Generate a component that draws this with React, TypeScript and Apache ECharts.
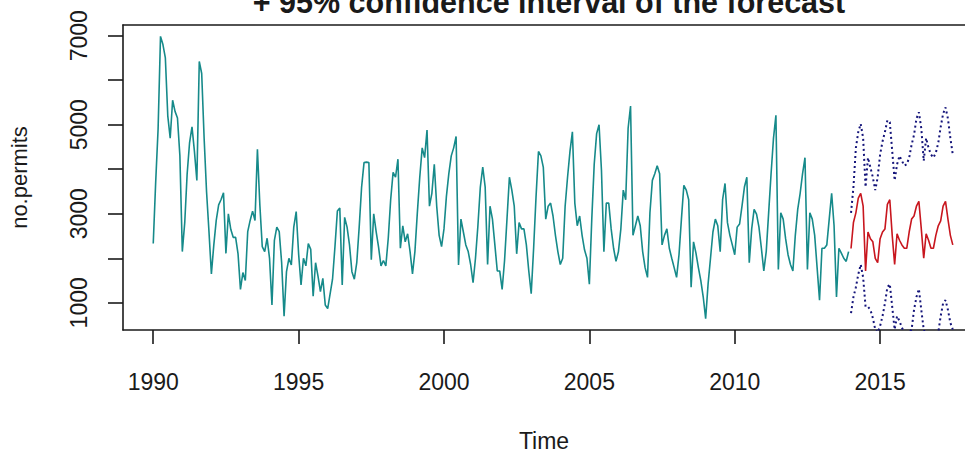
import React, { useEffect, useRef } from "react";
import * as echarts from "echarts";

const START_YEAR = 1990;
const FORECAST_START = 2014;

// monthly building permits, Jan 1990 - Dec 2013
const permits = [
  2330, 3700, 4900, 6985, 6800, 6500, 5200, 4700, 5550, 5300, 5150, 4300,
  2150, 2800, 3900, 4600, 4950, 4400, 3750, 6420, 6150, 4700, 3500, 2600,
  1650, 2300, 2850, 3200, 3320, 3470, 2110, 3000, 2650, 2470, 2470, 2100,
  1300, 1680, 1500, 2600, 2850, 3060, 2850, 4450, 3200, 2260, 2150, 2450,
  2000, 950, 2400, 2700, 2600, 1900, 700, 1700, 2000, 1850, 2700, 3050,
  2100, 1400, 2000, 1830, 2330, 2200, 1150, 1900, 1600, 1250, 1550, 950,
  870, 1200, 1530, 2260, 3060, 3130, 1400, 2920, 2700, 2300, 1700, 1530,
  1900, 2700, 3600, 4150, 4160, 4150, 1970, 3000, 2600, 2250, 1830, 1950,
  1830, 2450, 3320, 3930, 3820, 4225, 2225, 2730, 2370, 2550, 2150, 1650,
  2150, 3020, 3820, 4480, 4260, 4880, 3170, 3460, 4110, 3170, 2515, 2260,
  2660, 3390, 3900, 4300, 4480, 4735, 1850, 2880, 2590, 2300, 2150, 1860,
  1450, 2000, 2730, 3600, 4050, 3600, 1860, 3170, 2880, 2300, 1715, 1715,
  1300, 1950, 2880, 3820, 3530, 3170, 2100, 2800, 2660, 2660, 2300, 1715,
  1205, 2225, 3390, 4400, 4300, 4040, 2880, 3170, 3240, 2950, 2515, 2150,
  1860, 2000, 3170, 3820, 4400, 4840, 3240, 2730, 2950, 2515, 2190, 2000,
  1420, 2880, 4110, 4800, 5000, 3970, 2150, 3240, 3240, 2660, 2225, 1930,
  2150, 2660, 3530, 3315, 4920, 5420, 2515, 2730, 2950, 2730, 2150, 1790,
  1570, 3020, 3750, 3900, 4080, 3900, 2300, 2515, 2660, 2225, 2000, 1790,
  1570, 2080, 2880, 3640, 3530, 3315, 1350, 2370, 2115, 1790, 1500, 1130,
  645, 1420, 2000, 2590, 2880, 2730, 2150, 3315, 3680, 2800, 2515, 2300,
  2080, 2700, 2770, 3170, 3600, 3820, 1900, 2660, 3100, 2990, 2700, 2225,
  1715, 2150, 3020, 3900, 4700, 5210, 1750, 3020, 2880, 2440, 2080, 1860,
  1715, 2515, 3100, 3460, 3900, 4260, 1750, 3020, 2880, 2515, 1790, 1060,
  2225, 2225, 2300, 2880, 3460, 2730, 1130, 2225, 2115, 2000, 1930, 2150,
];

// forecast from Jan 2014
const forecastMean = [
  2220, 2805, 3020, 3350, 3460, 3170, 1715, 2590, 2440, 2370, 2000, 1900,
  2440, 2590, 2660, 3210, 3315, 2515, 1860, 2550, 2405, 2300, 2225, 2225,
  2590, 2880, 2950, 3170, 3280, 2660, 2000, 2550, 2405, 2225, 2225, 2515,
  2730, 2840, 3170, 3280, 2880, 2515, 2300,
];
const forecastUpper = [
  3020, 3600, 4480, 4840, 5020, 4700, 3600, 4260, 4040, 3820, 3530, 3820,
  4330, 4625, 4840, 5100, 5060, 4410, 3750, 4110, 4300, 4190, 4080, 4110,
  4260, 4550, 4770, 5135, 5280, 4920, 4190, 4700, 4480, 4330, 4260, 4370,
  4590, 4950, 5245, 5390, 5135, 4700, 4330,
];
const forecastLower = [
  770, 1130, 1350, 1640, 1860, 1570, 910, 910, 840, 660, 400, 330,
  480, 700, 990, 1350, 1420, 910, 400, 700, 590, 440, 330, 260,
  330, 400, 840, 1130, 1310, 840, 400, 260, 190, 110, 110, 190,
  330, 700, 990, 1060, 840, 550, 400,
];

const xTicks = [1990, 1995, 2000, 2005, 2010, 2015];
const yTicks = [1000, 2000, 3000, 4000, 5000, 6000, 7000];
const yLabels = [1000, 3000, 5000, 7000];

const FONT = "'Liberation Sans', Arial, sans-serif";
const AXIS_COLOR = "#1a1a1a";

function toPairs(values: number[], start: number) {
  return values.map((v, i) => [start + i / 12, v]);
}

export default function App() {
  const ref = useRef<HTMLDivElement>(null);

  useEffect(() => {
    if (!ref.current) return;
    const chart = echarts.init(ref.current, undefined, { renderer: "svg" });
    const xMin = 1988.96;
    const xMax = 2017.92;
    const labelStyle = { fontSize: 23, color: AXIS_COLOR, fontFamily: FONT };
    chart.setOption({
      animation: false,
      backgroundColor: "#ffffff",
      graphic: [
        {
          type: "text",
          x: 549,
          y: 2,
          style: {
            text: "+ 95% confidence interval of the forecast",
            fontSize: 30.5,
            fontWeight: "bold",
            fontFamily: FONT,
            fill: AXIS_COLOR,
            textAlign: "center",
            textVerticalAlign: "middle",
          },
        },
      ],
      grid: { left: 122, top: 25, width: 854, height: 314, show: false },
      xAxis: [
        {
          type: "value",
          position: "bottom",
          min: xMin,
          max: xMax,
          axisLine: { show: true, onZero: false, lineStyle: { color: AXIS_COLOR, width: 1.6 } },
          axisTick: { show: true, length: 14, customValues: xTicks, lineStyle: { color: AXIS_COLOR, width: 1.6 } },
          axisLabel: {
            customValues: xTicks,
            formatter: (v: number) => String(Math.round(v)),
            margin: 40,
            ...labelStyle,
          },
          splitLine: { show: false },
          name: "Time",
          nameLocation: "middle",
          nameGap: 99,
          nameTextStyle: { ...labelStyle },
        },
        {
          type: "value",
          position: "top",
          min: xMin,
          max: xMax,
          axisLine: { show: true, onZero: false, lineStyle: { color: AXIS_COLOR, width: 1.6 } },
          axisTick: { show: false },
          axisLabel: { show: false },
          splitLine: { show: false },
        },
      ],
      yAxis: {
        type: "value",
        min: 389,
        max: 7240,
        axisLine: { show: true, onZero: false, lineStyle: { color: AXIS_COLOR, width: 1.6 } },
        axisTick: { show: true, length: 15, customValues: yTicks, lineStyle: { color: AXIS_COLOR, width: 1.6 } },
        axisLabel: {
          customValues: yLabels,
          formatter: (v: number) => String(Math.round(v)),
          rotate: 90,
          margin: 33,
          ...labelStyle,
        },
        splitLine: { show: false },
        name: "no.permits",
        nameLocation: "middle",
        nameGap: 93,
        nameTextStyle: { ...labelStyle, fontSize: 22 },
      },
      series: [
        {
          type: "line",
          name: "permits",
          data: toPairs(permits, START_YEAR),
          showSymbol: false,
          symbol: "none",
          clip: true,
          lineStyle: { color: "#168a8a", width: 1.6 },
        },
        {
          type: "line",
          name: "upper",
          data: toPairs(forecastUpper, FORECAST_START),
          symbol: "none",
          clip: true,
          lineStyle: { color: "#14147a", width: 2, type: [2, 3] },
        },
        {
          type: "line",
          name: "lower",
          data: toPairs(forecastLower, FORECAST_START),
          symbol: "none",
          clip: true,
          lineStyle: { color: "#14147a", width: 2, type: [2, 3] },
        },
        {
          type: "line",
          name: "forecast",
          data: toPairs(forecastMean, FORECAST_START),
          symbol: "none",
          clip: true,
          lineStyle: { color: "#c8161e", width: 1.6 },
        },
      ],
    });
    return () => chart.dispose();
  }, []);

  return (
    <div
      ref={ref}
      style={{ position: "fixed", left: 0, top: 0, width: 965, height: 457, background: "#fff" }}
    />
  );
}
